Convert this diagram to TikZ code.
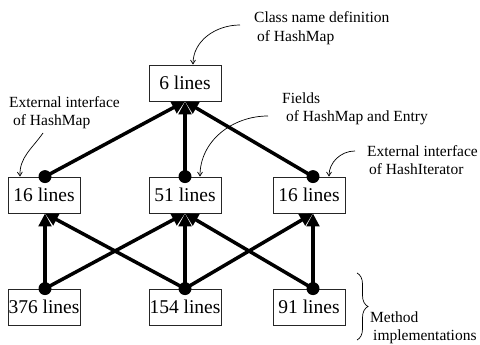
\documentclass[tikz,border=0pt]{standalone}
\usepackage{fontspec}
\setmainfont{Liberation Serif}
\usetikzlibrary{arrows.meta,decorations.pathreplacing}
\begin{document}
\begin{tikzpicture}[x=1pt,y=-1pt,
  box/.style={draw=black!85,line width=0.8pt,fill=white,minimum width=72pt,minimum height=36pt,inner sep=0pt,font=\fontsize{19.5}{22}\selectfont},
  lab/.style={anchor=base west,inner sep=0pt,font=\fontsize{15.5}{19}\selectfont},
  dep/.style={line width=3.5pt,-{Triangle[length=13pt,width=12.5pt]}},
  dot/.style={circle,fill=black,inner sep=0pt,minimum size=13pt},
  note/.style={line width=0.7pt,-{Straight Barb[length=4pt,width=5pt]}}]
\useasboundingbox (0,0) rectangle (480,345);
% boxes
\node[box] (top) at (185,83) {6 lines};
\node[box] (m1) at (44,195) {16 lines};
\node[box] (m2) at (185,195) {51 lines};
\node[box] (m3) at (309,195) {16 lines};
\node[box] (b1) at (44,307) {376 lines};
\node[box] (b2) at (185,307) {154 lines};
\node[box] (b3) at (309,307) {91 lines};
% anchor points
\coordinate (d21) at ([xshift=1pt]m1.north);
\coordinate (d22) at (m2.north);
\coordinate (d23) at ([xshift=4pt]m3.north);
\coordinate (d31) at ([xshift=1pt]b1.north);
\coordinate (d32) at (b2.north);
\coordinate (d33) at ([xshift=4pt]b3.north);
\coordinate (t21) at ([xshift=1pt]m1.south);
\coordinate (t22) at (m2.south);
\coordinate (t23) at ([xshift=4pt]m3.south);
% dependency arrows
\draw[dep] (d21) -- (top.south);
\draw[dep] (d22) -- (top.south);
\draw[dep] (d23) -- (top.south);
\draw[dep] (d31) -- (t21);
\draw[dep] (d31) -- (t22);
\draw[dep] (d32) -- (t21);
\draw[dep] (d32) -- (t22);
\draw[dep] (d32) -- (t23);
\draw[dep] (d33) -- (t22);
\draw[dep] (d33) -- (t23);
% dots
\foreach \p in {d21,d22,d23,d31,d32,d33} \node[dot] at (\p) {};
% labels
\node[lab] (l1a) at (254,23) {Class name definition};
\node[lab] (l1b) at (257,42) {of HashMap};
\node[lab] (l2a) at (9,107) {External interface};
\node[lab] (l2b) at (13,126) {of HashMap};
\node[lab] (l3a) at (282,103) {Fields};
\node[lab] (l3b) at (286,122) {of HashMap and Entry};
\node[lab] (l4a) at (367,157) {External interface};
\node[lab] (l4b) at (369,175) {of HashIterator};
\node[lab] (l5a) at (370,322) {Method};
\node[lab] (l5b) at (373,340) {implementations};
% note arrows
\coordinate (c1) at (240,25);
\coordinate (c2) at (43,133);
\coordinate (c3) at (268,116);
\coordinate (c4) at (355,151);
\draw[note] (c1) to[out=180,in=90] ([xshift=8pt]top.north);
\draw[note] (c2) to[out=235,in=92] ([xshift=-24pt]m1.north);
\draw[note] (c3) to[out=180,in=90] ([xshift=15pt]m2.north);
\draw[note] (c4) to[out=180,in=90] ([xshift=20pt]m3.north);
% brace
\coordinate (br1) at (357,273);
\coordinate (br2) at (357,340);
\draw[line width=0.7pt,decorate,decoration={brace,amplitude=11pt}] (br1) -- (br2);
\end{tikzpicture}
\end{document}
